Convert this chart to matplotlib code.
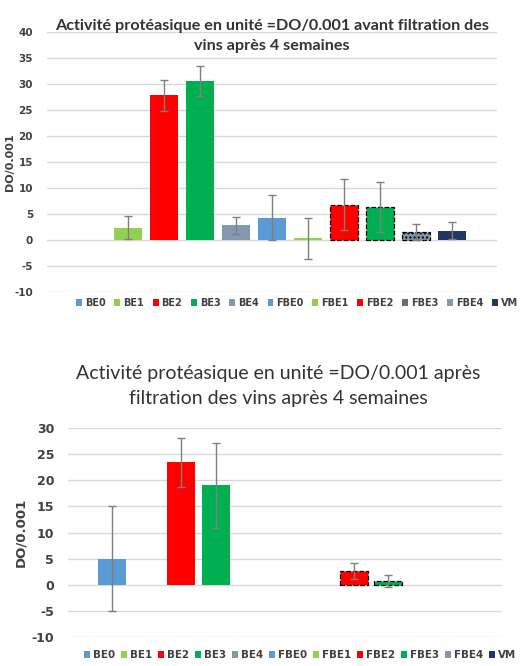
import numpy as np
import matplotlib.pyplot as plt
from matplotlib.patches import Patch

# -------------------------
# Data
# -------------------------
series = ["BE0", "BE1", "BE2", "BE3", "BE4",
          "FBE0", "FBE1", "FBE2", "FBE3", "FBE4", "VM"]

avant_vals = [0.0, 2.4, 27.8, 30.6, 2.8, 4.3, 0.3, 6.8, 6.4, 1.5, 1.8]
avant_err = [0.0, 2.3, 2.9, 2.9, 1.7, 4.3, 4.0, 4.95, 4.8, 1.5, 1.7]

apres_vals = [5.0, 0.0, 23.4, 19.0, 0.0, 0.0, 0.0, 2.6, 0.7, 0.0, 0.0]
apres_err = [10.0, 0.0, 4.7, 8.2, 0.0, 0.0, 0.0, 1.5, 1.2, 0.0, 0.0]

bar_colors = ["#5b9bd5", "#92d050", "#ff0000", "#00b050", "#8497b0",
              "#5b9bd5", "#92d050", "#ff0000", "#00b050", "#8497b0", "#203864"]
dashed = [False, False, False, False, False,
          False, False, True, True, True, False]

legend_top_colors = ["#5b9bd5", "#92d050", "#ff0000", "#00b050", "#8497b0",
                     "#5b9bd5", "#92d050", "#ff0000", "#6d6d6d", "#8497b0", "#203864"]
legend_bot_colors = bar_colors

title_top = "Activité protéasique en unité =DO/0.001 avant filtration des\nvins après 4 semaines"
title_bot = "Activité protéasique en unité =DO/0.001 après\nfiltration des vins après 4 semaines"

plt.rcParams["axes.unicode_minus"] = False
plt.rcParams["hatch.color"] = "#3a4a66"

W, H = 521, 666
fig = plt.figure(figsize=(W / 100, H / 100), dpi=100)


def px_axes(x0, x1, ytop, ybot):
    return fig.add_axes([x0 / W, (H - ybot) / H, (x1 - x0) / W, (ybot - ytop) / H])


def draw(ax, vals, errs, width, xlim, ylim, ticks, tick_size):
    x = np.arange(len(series))
    for i in range(len(series)):
        if vals[i] == 0 and errs[i] == 0:
            continue
        ax.bar(
            x[i], vals[i], width=width,
            color=bar_colors[i],
            edgecolor="black" if dashed[i] else bar_colors[i],
            linestyle="--" if dashed[i] else "-",
            linewidth=0.9 if dashed[i] else 0,
            hatch="...." if series[i] == "FBE4" else None,
            zorder=3
        )
        ax.errorbar(
            x[i], vals[i], yerr=errs[i],
            fmt="none", ecolor="#7f7f7f",
            elinewidth=1, capsize=3, capthick=1,
            zorder=4
        )
    ax.set_xlim(*xlim)
    ax.set_ylim(*ylim)
    ax.set_yticks(ticks)
    ax.set_xticks([])
    ax.grid(axis="y", color="#d9d9d9", linewidth=1, zorder=0)
    for s in ax.spines.values():
        s.set_visible(False)
    ax.tick_params(axis="y", length=0, pad=10, labelsize=tick_size,
                   labelcolor="#404040")
    for lab in ax.get_yticklabels():
        lab.set_fontweight("bold")


# -------------------------
# Top chart : avant filtration
# -------------------------
ax1 = px_axes(47, 497, 32, 292)
draw(ax1, avant_vals, avant_err, 0.78, (-1.25, 11.25), (-10, 40),
     np.arange(-10, 41, 5), 7.5)
ax1.set_ylabel("DO/0.001", fontsize=8, fontweight="bold", color="#404040")
ax1.yaxis.set_label_coords(-0.072, 0.5)
fig.text(272 / W, 1 - 36 / H, title_top, ha="center", va="center",
         fontsize=11.6, fontweight="bold", color="#333333",
         family=["Lato", "DejaVu Sans"], linespacing=1.55)

handles = [Patch(facecolor=c) for c in legend_top_colors]
fig.legend(handles, series, loc="center", bbox_to_anchor=(297 / W, 1 - 303 / H),
           ncol=11, frameon=False, handlelength=0.6, handleheight=0.6,
           handletextpad=0.3, columnspacing=0.9,
           prop={"size": 7, "weight": "bold"},
           labelcolor="#404040")

# -------------------------
# Bottom chart : après filtration
# -------------------------
ax2 = px_axes(68, 502, 428, 637)
draw(ax2, apres_vals, apres_err, 0.82, (-1.28, 11.3), (-10, 30),
     np.arange(-10, 31, 5), 9)
ax2.set_ylabel("DO/0.001", fontsize=9.5, fontweight="bold", color="#404040")
ax2.yaxis.set_label_coords(-0.094, 0.5)
fig.text(278 / W, 1 - 386 / H, title_bot, ha="center", va="center",
         fontsize=14, color="#333333",
         family=["Lato", "DejaVu Sans"], linespacing=1.6)

handles = [Patch(facecolor=c) for c in legend_bot_colors]
fig.legend(handles, series, loc="center", bbox_to_anchor=(300 / W, 1 - 655 / H),
           ncol=11, frameon=False, handlelength=0.6, handleheight=0.6,
           handletextpad=0.3, columnspacing=0.55,
           prop={"size": 7.4, "weight": "bold"},
           labelcolor="#404040")

fig.savefig("out.png", dpi=100)
